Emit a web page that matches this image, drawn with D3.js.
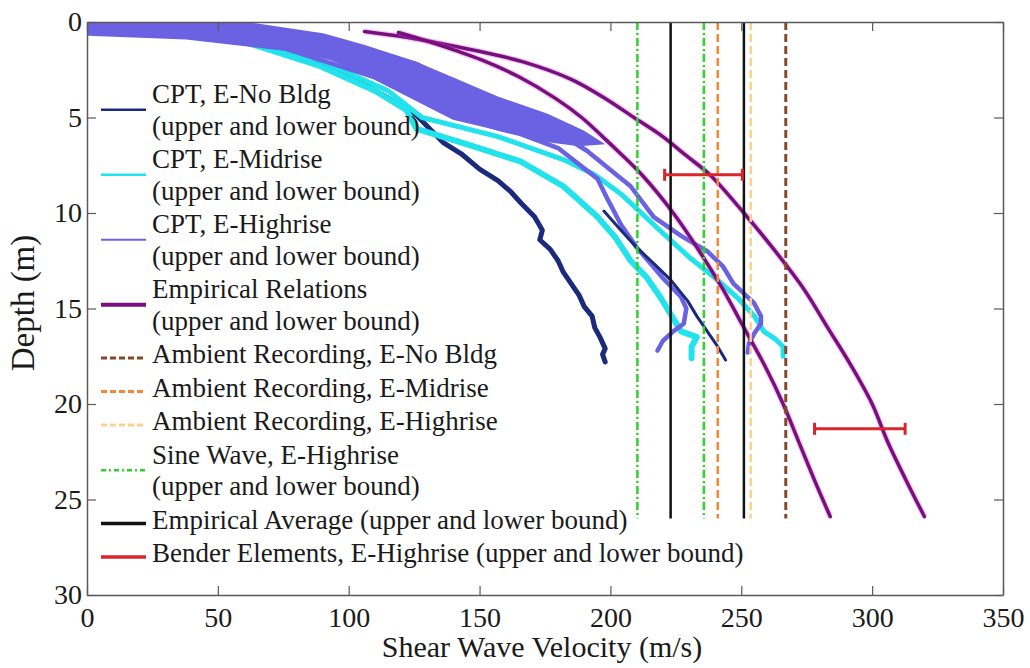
<!DOCTYPE html>
<html>
<head>
<meta charset="utf-8">
<script src="https://cdn.jsdelivr.net/npm/d3@7"></script>
<style>
  body { margin: 0; background: #fff; }
  text { font-family: "Liberation Serif", "Times New Roman", serif; fill: #1a1a1a; }
</style>
</head>
<body>
<div id="chart"></div>
<script>
// axis ticks
var xTicks = [0, 50, 100, 150, 200, 250, 300, 350];
var yTicks = [0, 5, 10, 15, 20, 25, 30];

// CPT profiles [velocity m/s, depth m]
var cptNoBldgLower = [[0,0.45],[30,0.7],[63,0.95],[85,1.8],[100,2.8],[114,3.9],[126,4.9],[131,5.6],[136,6.3],[143,6.9],[150,7.7],[157,8.3],[162,8.9],[166,9.5],[171,10.2],[174,10.9],[173,11.4],[177,11.9],[180,12.5],[182,13.1],[185,13.7],[188,14.3],[190,14.9],[193,15.4],[194,16.0],[196,16.5],[198,17.1],[197,17.4],[198,17.8]];
var cptNoBldgUpper = [[0,0.3],[40,0.5],[80,1.4],[120,3.4],[150,5.3],[170,6.8],[185,8.3],[197.5,9.9],[204,10.9],[210,11.8],[217,12.7],[223,13.5],[229.5,14.6],[233,15.4],[237,16.2],[241,17.0],[244,17.7]];
var cptMidLower = [[0,0.5],[50,0.6],[89,2.3],[110,3.6],[122,4.6],[126,5.6],[145,6.4],[165.6,7.3],[182,8.6],[195,10.2],[202,11.3],[207.7,12.5],[214,13.4],[219,14.4],[223,15.3],[227,16.2],[233,16.5],[231,17.0],[231,17.6]];
var cptMidUpper = [[0,0.3],[50,0.5],[89,2.0],[115,3.6],[128,5.0],[157,6.0],[182,7.2],[194,8.0],[204,9.0],[218,10.8],[230,12.3],[240,13.4],[249,14.5],[255,15.4],[258.6,16.2],[263,16.6],[266,17.0],[266,17.5]];
var cptHighLower = [[0,0.6],[38,0.8],[76,1.4],[110,2.9],[140,5.0],[164.5,5.8],[180,6.6],[195,8.2],[199,9.3],[204,10.6],[210,11.8],[215,12.6],[220,13.4],[227,14.4],[229,15.0],[228,15.8],[224,16.2],[220,16.7],[218,17.2]];
var cptHighUpper = [[0,0.1],[60,0.1],[90,0.7],[105.6,1.3],[126,2.2],[147.7,3.9],[169.5,4.9],[191,6.74],[207.7,8.6],[216.5,10.2],[227,11.2],[237,12],[243,12.8],[247,13.7],[254.8,14.7],[257.5,15.4],[257.5,15.8],[255,16.3],[253,16.8],[252.5,17.3]];
var cptHighSpread = [[0,0],[60,0],[90,0.7],[105.6,1.25],[126,2.1],[140,2.9],[157,3.9],[176,4.8],[190,5.7],[198,6.4],[188,6.5],[176,6.3],[157,5.7],[140,5.0],[126,4.0],[110,2.9],[93,2.0],[76,1.4],[38,0.8],[0,0.6]];

// empirical relations
var empiricalUpper = [[106,0.5],[122,0.8],[138,1.2],[152,1.6],[167,2.1],[185,3],[198,4],[209,5],[220,6],[229,7],[238,8],[251,10],[263,12],[274,14],[283,16],[292,18],[300,20],[306,22],[313,24],[320,25.9]];
var empiricalLower = [[119,0.55],[130,1.0],[141,1.5],[151,2.0],[165,2.87],[179,4],[189,5],[197,6],[202.7,6.74],[212,8],[224,10],[234,12],[243,14],[251,16],[259,18],[266,20],[272,22],[278,24],[284,25.9]];

// constant-velocity lines, depth 0 to 26 m
var lineDepth = [0, 26];
var ambientNoBldg = [267];
var ambientMidrise = [241];
var ambientHighrise = [253.6];
var sineWave = [210.3, 235.7];
var empiricalAverage = [223, 251];

// bender elements [depth, low, high]
var benderElements = [[8.0, 220.7, 250.4], [21.3, 278, 312.6]];

var legendLabels = [
  ["CPT, E-No Bldg", "(upper and lower bound)"],
  ["CPT, E-Midrise", "(upper and lower bound)"],
  ["CPT, E-Highrise", "(upper and lower bound)"],
  ["Empirical Relations", "(upper and lower bound)"],
  ["Ambient Recording, E-No Bldg"],
  ["Ambient Recording, E-Midrise"],
  ["Ambient Recording, E-Highrise"],
  ["Sine Wave, E-Highrise", "(upper and lower bound)"],
  ["Empirical Average (upper and lower bound)"],
  ["Bender Elements, E-Highrise (upper and lower bound)"]
];

var W = 1030, H = 668;
var mLeft = 87, mRight = 1003, mTop = 22, mBottom = 595;

var svg = d3.select("#chart").append("svg")
  .attr("width", W)
  .attr("height", H);

var x = d3.scaleLinear().domain([0, 350]).range([mLeft, mRight]);
var y = d3.scaleLinear().domain([0, 30]).range([mTop, mBottom]);

svg.append("clipPath").attr("id", "clip")
  .append("rect")
  .attr("x", mLeft).attr("y", mTop)
  .attr("width", mRight - mLeft).attr("height", mBottom - mTop);

var line = d3.line().x(function(d) { return x(d[0]); }).y(function(d) { return y(d[1]); });
var smooth = d3.line().curve(d3.curveCatmullRom)
  .x(function(d) { return x(d[0]); }).y(function(d) { return y(d[1]); });

var plot = svg.append("g").attr("clip-path", "url(#clip)");

var cNavy = "#1c2a7e", cCyan = "#22e2ec", cSlate = "#6a62e2", cPurple = "#7a0e7e";
var cBrown = "#84492c", cOrange = "#f0893a", cPeach = "#fbd190", cGreen = "#2fd12f", cRed = "#d8262a";

function curve(data, color, width) {
  plot.append("path")
    .attr("d", line(data))
    .attr("fill", "none")
    .attr("stroke", color)
    .attr("stroke-width", width)
    .attr("stroke-linejoin", "round")
    .attr("stroke-linecap", "round");
}

curve(cptNoBldgLower, cNavy, 5);
curve(cptMidUpper, cCyan, 5);
curve(cptMidLower, cCyan, 6);

// highrise scatter band near the surface
plot.append("path")
  .attr("d", line(cptHighSpread) + "Z")
  .attr("fill", cSlate);
curve(cptHighUpper, cSlate, 4.5);
curve(cptHighLower, cSlate, 4.5);
curve(cptNoBldgUpper.filter(function(d) { return d[1] > 9; }), cNavy, 3);

[empiricalUpper, empiricalLower].forEach(function(d) {
  plot.append("path")
    .attr("d", smooth(d))
    .attr("fill", "none")
    .attr("stroke", "#c060c8")
    .attr("stroke-opacity", 0.3)
    .attr("stroke-width", 6);
  plot.append("path")
    .attr("d", smooth(d))
    .attr("fill", "none")
    .attr("stroke", cPurple)
    .attr("stroke-width", 3.5)
    .attr("stroke-linecap", "round");
});

function vlines(values, color, width, dash) {
  plot.selectAll(null)
    .data(values)
    .enter().append("line")
    .attr("x1", function(d) { return x(d); })
    .attr("x2", function(d) { return x(d); })
    .attr("y1", y(lineDepth[0]))
    .attr("y2", y(lineDepth[1]))
    .attr("stroke", color)
    .attr("stroke-width", width)
    .attr("stroke-dasharray", dash);
}

vlines(sineWave, cGreen, 2.5, "8,3,2,3");
vlines(ambientMidrise, cOrange, 2.5, "8,4");
vlines(ambientHighrise, cPeach, 2.5, "8,4");
vlines(ambientNoBldg, cBrown, 3, "8,4");
vlines(empiricalAverage, "#111", 2.5, null);

var bender = plot.selectAll(".bender")
  .data(benderElements)
  .enter().append("g")
  .attr("class", "bender");
bender.append("line")
  .attr("x1", function(d) { return x(d[1]); })
  .attr("x2", function(d) { return x(d[2]); })
  .attr("y1", function(d) { return y(d[0]); })
  .attr("y2", function(d) { return y(d[0]); })
  .attr("stroke", cRed).attr("stroke-width", 3);
bender.selectAll(".cap")
  .data(function(d) { return [[d[0], d[1]], [d[0], d[2]]]; })
  .enter().append("line")
  .attr("class", "cap")
  .attr("x1", function(d) { return x(d[1]); })
  .attr("x2", function(d) { return x(d[1]); })
  .attr("y1", function(d) { return y(d[0]) - 6; })
  .attr("y2", function(d) { return y(d[0]) + 6; })
  .attr("stroke", cRed).attr("stroke-width", 3);

// axes box
var axisColor = "#5a5a5a";
function styleAxis(g) {
  g.select(".domain").attr("stroke", axisColor).attr("stroke-width", 1.5);
  g.selectAll(".tick line").attr("stroke", axisColor).attr("stroke-width", 1.2);
  g.selectAll(".tick text")
    .style("font-family", '"Liberation Serif", serif')
    .style("font-size", "28px")
    .attr("fill", "#1a1a1a");
}

svg.append("g")
  .attr("transform", "translate(0," + mBottom + ")")
  .call(d3.axisBottom(x).tickValues(xTicks).tickSize(-9).tickSizeOuter(0).tickPadding(12))
  .call(styleAxis);
svg.append("g")
  .attr("transform", "translate(0," + mTop + ")")
  .call(d3.axisTop(x).tickValues(xTicks).tickSize(-9).tickSizeOuter(0).tickFormat(""))
  .call(styleAxis);
svg.append("g")
  .attr("transform", "translate(" + mLeft + ",0)")
  .call(d3.axisLeft(y).tickValues(yTicks).tickSize(-9).tickSizeOuter(0).tickPadding(5))
  .call(styleAxis);
svg.append("g")
  .attr("transform", "translate(" + mRight + ",0)")
  .call(d3.axisRight(y).tickValues(yTicks).tickSize(-9).tickSizeOuter(0).tickFormat(""))
  .call(styleAxis);

svg.append("text")
  .attr("x", (mLeft + mRight) / 2 - 3)
  .attr("y", 657)
  .attr("text-anchor", "middle")
  .style("font-size", "30px")
  .text("Shear Wave Velocity (m/s)");

svg.append("text")
  .attr("transform", "translate(34," + 303 + ") rotate(-90)")
  .attr("text-anchor", "middle")
  .style("font-size", "33px")
  .text("Depth (m)");

// legend
var legendStyles = [
  { color: cNavy, width: 2.5, dash: null },
  { color: cCyan, width: 2.5, dash: null },
  { color: cSlate, width: 2, dash: null },
  { color: cPurple, width: 4, dash: null },
  { color: cBrown, width: 3, dash: "6,3" },
  { color: cOrange, width: 3, dash: "6,3" },
  { color: cPeach, width: 3, dash: "6,3" },
  { color: cGreen, width: 2.5, dash: "5,3,2,3" },
  { color: "#111", width: 3.5, dash: null },
  { color: cRed, width: 3.5, dash: null }
];

var legend = svg.append("g");
var baseline = 103;
legendLabels.forEach(function(rows, i) {
  var st = legendStyles[i];
  var first = baseline;
  rows.forEach(function(r, j) {
    if (j > 0) baseline += 31.5;
    legend.append("text")
      .attr("x", 152)
      .attr("y", baseline)
      .style("font-size", "27px")
      .text(r);
  });
  var ly = rows.length > 1 ? (first + baseline) / 2 - 9 : baseline - 5;
  legend.append("line")
    .attr("x1", 101).attr("x2", 146)
    .attr("y1", ly).attr("y2", ly)
    .attr("stroke", st.color)
    .attr("stroke-width", st.width)
    .attr("stroke-dasharray", st.dash);
  baseline += 33.5;
});
</script>
</body>
</html>
